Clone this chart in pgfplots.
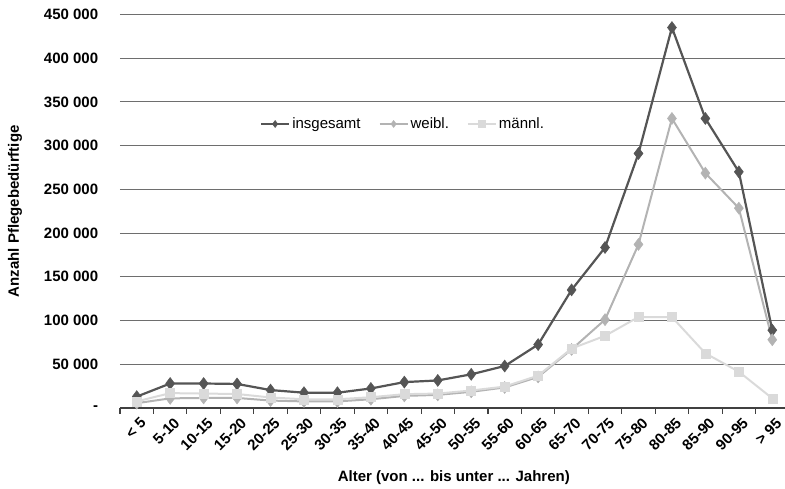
\documentclass[border=0pt]{standalone}
\usepackage{fontspec}
\setmainfont{Liberation Sans}
\usepackage{pgfplots}
\pgfplotsset{compat=1.18}
\definecolor{cIns}{HTML}{555555}
\definecolor{cW}{HTML}{B3B3B3}
\definecolor{cM}{HTML}{DADADA}
\definecolor{cGrid}{HTML}{6E6E6E}
\begin{document}
\begin{tikzpicture}
\useasboundingbox (-120pt,-81pt) rectangle (665pt,408pt);
\begin{axis}[
  at={(0pt,0pt)}, anchor=south west,
  scale only axis, width=665pt, height=393.6pt,
  xmin=-0.5, xmax=19.38, ymin=0, ymax=450000,
  clip=false, scaled y ticks=false,
  axis x line*=bottom, axis y line*=left,
  y axis line style={draw=none},
  x axis line style={draw=black!75, line width=1.3pt},
  ytick={0,50000,...,450000},
  yticklabels={-\hspace{3pt},50 000,100 000,150 000,200 000,250 000,300 000,350 000,400 000,450 000},
  major y tick style={draw=none},
  ymajorgrids, grid style={draw=cGrid, line width=1.1pt},
  yticklabel style={font=\fontsize{15}{18}\selectfont\bfseries, anchor=east, xshift=-14pt},
  xtick={0,...,19},
  xticklabels={< 5,5-10,10-15,15-20,20-25,25-30,30-35,35-40,40-45,45-50,50-55,55-60,60-65,65-70,70-75,75-80,80-85,85-90,90-95,> 95},
  major x tick style={draw=none},
  minor xtick={-0.5,0.5,...,18.5},
  minor x tick style={draw=black!75, line width=1.1pt},
  tick align=outside, minor tick length=6pt,
  xticklabel style={font=\fontsize{15}{18}\selectfont\bfseries, rotate=45, anchor=north east, inner sep=1pt, yshift=-4pt},
  xlabel={Alter (von ... bis unter ... Jahren)},
  ylabel={Anzahl Pflegebedürftige},
  xlabel style={font=\fontsize{15}{18}\selectfont\bfseries, at={(rel axis cs:0.502,-0.178)}, anchor=center},
  ylabel style={font=\fontsize{15}{18}\selectfont\bfseries, at={(rel axis cs:-0.158,0.5)}, anchor=center},
  legend style={at={(rel axis cs:0.4256,0.7216)}, anchor=center, draw=none, fill=none,
    font=\fontsize{15}{18}\selectfont, legend columns=3,
    /tikz/every even column/.append style={column sep=16pt}},
  legend image code/.code={\draw[mark repeat=2, mark phase=2, #1] plot coordinates {(0pt,0pt) (14pt,0pt) (28pt,0pt)};},
  legend image post style={mark size=3.5pt},
]
\addplot[cIns, line width=2.2pt, mark=diamond*, mark size=6pt, mark options={fill=cIns, draw=cIns, line width=0.5pt}] coordinates {
(0,13000) (1,28000) (2,28000) (3,27500) (4,20500) (5,17500) (6,17500) (7,22300) (8,29600) (9,31500)
(10,38500) (11,48000) (12,72500) (13,135000) (14,183500) (15,291000) (16,435000) (17,331000) (18,270000) (19,89000)};
\addlegendentry{insgesamt}
\addplot[cW, line width=2pt, mark=diamond*, mark size=6pt, mark options={fill=cW, draw=cW, line width=0.5pt}] coordinates {
(0,5500) (1,11000) (2,11500) (3,11500) (4,8500) (5,7500) (6,7500) (7,10000) (8,13800) (9,15000)
(10,18500) (11,23500) (12,35500) (13,67000) (14,101000) (15,187000) (16,331000) (17,268500) (18,228500) (19,78000)};
\addlegendentry{weibl.}
\addplot[cM, line width=2pt, mark=square*, mark size=4.5pt, mark options={fill=cM, draw=cM, line width=0.5pt}] coordinates {
(0,7500) (1,17000) (2,16500) (3,16000) (4,12000) (5,10000) (6,10000) (7,12300) (8,15800) (9,16500)
(10,20000) (11,24500) (12,37000) (13,68000) (14,82500) (15,104000) (16,104000) (17,62500) (18,41500) (19,11000)};
\addlegendentry{männl.}
\end{axis}
\end{tikzpicture}
\end{document}
